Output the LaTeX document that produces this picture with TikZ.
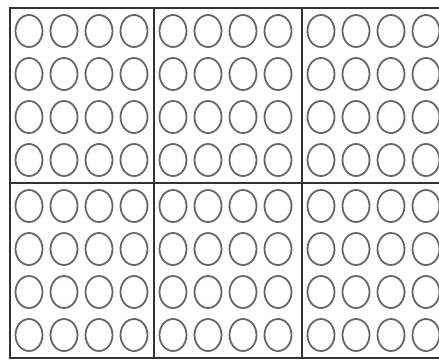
\documentclass[tikz,border=0pt]{standalone}
\begin{document}
\begin{tikzpicture}[x=1pt,y=-1pt,
  caseline/.style={line width=2pt,draw=black!80},
  trou/.style={line width=1.8pt,draw=black!60}]

\useasboundingbox (0,0) rectangle (439,360);
\clip (0,0) rectangle (439,360);

% Cadre et cases
\draw[caseline] (450,8) -- (10,8) -- (10,358) -- (450,358);
\draw[caseline] (10,183) -- (450,183);
\foreach \x in {154,302}
{
\draw[caseline] (\x,8) -- (\x,358);
}

% Trous de chaque case
\foreach \cx in {10,154,302}
{
\foreach \cy in {8,183}
{
\begin{scope}[xshift=\cx pt,yshift=-\cy pt]
\foreach \i in {0,1,2,3}
{
\foreach \j in {0,1,2,3}
{
\draw[trou] (19+35*\i,23+43*\j) ellipse (13.5 and 16);
}
}
\end{scope}
}
}

\end{tikzpicture}
\end{document}
